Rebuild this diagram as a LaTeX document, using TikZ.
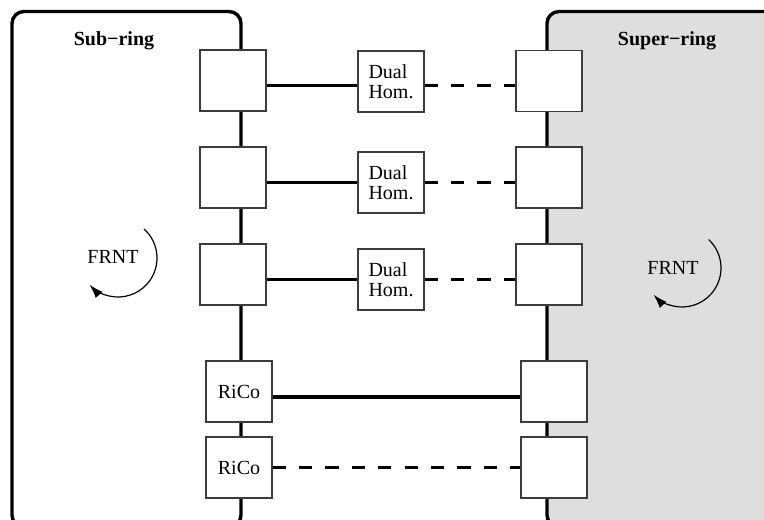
\documentclass[tikz,border=0pt]{standalone}
\usepackage{fontspec}
\setmainfont{Liberation Serif}
\definecolor{ringgray}{RGB}{222,222,222}
\definecolor{boxline}{RGB}{60,60,60}
\usetikzlibrary{positioning,arrows.meta}

\begin{document}
\begin{tikzpicture}[
    x=0.5pt, y=-0.5pt,
    ring/.style={draw=black, line width=1.7pt, rounded corners=6pt},
    ringname/.style={font=\bfseries\fontsize{10}{10}\selectfont, inner sep=0pt},
    port/.style={rectangle, minimum width=33pt, minimum height=30.5pt, inner sep=1pt, draw=boxline, line width=0.6pt, fill=white, font=\fontsize{10}{10}\selectfont, align=left},
    link/.style={line width=1.8pt},
    backup/.style={line width=1.8pt, dash pattern=on 6.6pt off 6.6pt},
    turn/.style={line width=0.6pt, -{Latex[length=7pt,width=4.5pt]}}
]
    \clip (0,0) rectangle (764,519);

    % the two rings
    \draw[ring, fill=white] (12,11.5) rectangle (241,527);
    \draw[ring, fill=ringgray] (547,11.5) rectangle (800,527);

    \node[ringname] (sub) at (114,41) {Sub−ring};
    \node[ringname] (super) at (667,41) {Super−ring};

    % rotation inside each ring
    \node[font=\fontsize{10}{10}\selectfont] (frntL) at (113,257) {FRNT};
    \coordinate (rotL) at (118,258);
    \draw[turn] (rotL) ++(48:19.5pt) arc[start angle=48, end angle=-137, radius=19.5pt];

    \node[font=\fontsize{10}{10}\selectfont] (frntR) at (673,268) {FRNT};
    \coordinate (rotR) at (682,268);
    \draw[turn] (rotR) ++(47:19.5pt) arc[start angle=47, end angle=-137, radius=19.5pt];

    % nodes on the sub-ring
    \node[port] (sa1) at (233,80.5) {};
    \node[port] (sa2) at (233,177.5) {};
    \node[port] (sa3) at (233,274.5) {};
    \node[port] (rc1) at (239,391.5) {RiCo};
    \node[port] (rc2) at (239,467.5) {RiCo};

    % dual homing
    \node[port] (dh1) at (391,81.5) {Dual\\Hom.};
    \node[port] (dh2) at (391,182.5) {Dual\\Hom.};
    \node[port] (dh3) at (391,279.5) {Dual\\Hom.};

    % nodes on the super-ring
    \node[port] (sp1) at (549,81) {};
    \node[port] (sp2) at (549,177.5) {};
    \node[port] (sp3) at (549,274.5) {};
    \node[port] (sp4) at (554,391.5) {};
    \node[port] (sp5) at (554,467.5) {};

    % links
    \draw[link] ([yshift=-2.5pt]sa1.east) -- ([yshift=-2pt]dh1.west);
    \draw[backup] ([yshift=-2pt]dh1.east) -- ([yshift=-2.25pt]sp1.west);
    \draw[link] ([yshift=-2.5pt]sa2.east) -- (dh2.west);
    \draw[backup] (dh2.east) -- ([yshift=-2.5pt]sp2.west);
    \draw[link] ([yshift=-2.5pt]sa3.east) -- (dh3.west);
    \draw[backup] (dh3.east) -- ([yshift=-2.5pt]sp3.west);
    \draw[link] ([yshift=-2.75pt]rc1.east) -- ([yshift=-2.75pt]sp4.west);
    \draw[backup] (rc2.east) -- (sp5.west);
\end{tikzpicture}
\end{document}
